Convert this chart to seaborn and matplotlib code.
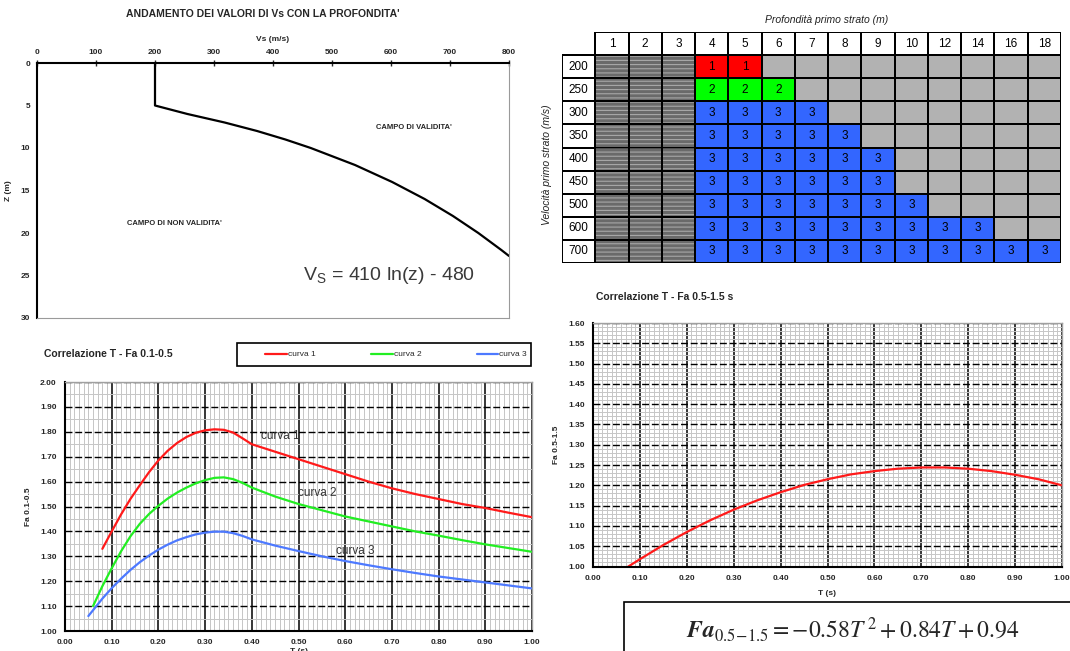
import numpy as np
import pandas as pd
import matplotlib
matplotlib.use("Agg")
import matplotlib.pyplot as plt
from matplotlib.colors import ListedColormap
from matplotlib.patches import Rectangle
import seaborn as sns

# ---------------- dati: Vs con la profondita' ----------------
prof_z = [0, 5, 6, 7, 8, 9, 10, 12, 14, 16, 18, 20, 22, 22.7]
vs_ms = [200, 200, 255, 318, 373, 421, 464, 539, 602, 657, 705, 748, 787, 800]

# ---------------- dati: tabella profondita' / velocita' ----------------
prof_strato = ['1', '2', '3', '4', '5', '6', '7', '8', '9', '10', '12', '14', '16', '18']
vel_strato = ['200', '250', '300', '350', '400', '450', '500', '600', '700']
# -1 = zona retinata, 0 = fuori campo, 1/2/3 = curva da usare
classe_curva = [
    [-1, -1, -1, 1, 1, 0, 0, 0, 0, 0, 0, 0, 0, 0],
    [-1, -1, -1, 2, 2, 2, 0, 0, 0, 0, 0, 0, 0, 0],
    [-1, -1, -1, 3, 3, 3, 3, 0, 0, 0, 0, 0, 0, 0],
    [-1, -1, -1, 3, 3, 3, 3, 3, 0, 0, 0, 0, 0, 0],
    [-1, -1, -1, 3, 3, 3, 3, 3, 3, 0, 0, 0, 0, 0],
    [-1, -1, -1, 3, 3, 3, 3, 3, 3, 0, 0, 0, 0, 0],
    [-1, -1, -1, 3, 3, 3, 3, 3, 3, 3, 0, 0, 0, 0],
    [-1, -1, -1, 3, 3, 3, 3, 3, 3, 3, 3, 3, 0, 0],
    [-1, -1, -1, 3, 3, 3, 3, 3, 3, 3, 3, 3, 3, 3],
]

# ---------------- dati: correlazione T - Fa 0.1-0.5 ----------------
t_curva1 = [0.08, 0.10, 0.12, 0.14, 0.16, 0.18, 0.20, 0.22, 0.24, 0.26, 0.28, 0.30, 0.32, 0.34, 0.36,
            0.38, 0.40, 0.45, 0.50, 0.55, 0.60, 0.65, 0.70, 0.75, 0.80, 0.85, 0.90, 0.95, 1.00]
fa_curva1 = [1.33, 1.40, 1.468, 1.53, 1.585, 1.638, 1.685, 1.724, 1.755, 1.779, 1.796, 1.806, 1.81, 1.808, 1.797,
             1.774, 1.75, 1.72, 1.69, 1.66, 1.63, 1.60, 1.573, 1.55, 1.53, 1.51, 1.494, 1.475, 1.457]
t_curva2 = [0.06, 0.08, 0.10, 0.12, 0.14, 0.16, 0.18, 0.20, 0.22, 0.24, 0.26, 0.28, 0.30, 0.32, 0.34,
            0.36, 0.38, 0.40, 0.45, 0.50, 0.55, 0.60, 0.65, 0.70, 0.75, 0.80, 0.85, 0.90, 0.95, 1.00]
fa_curva2 = [1.10, 1.18, 1.252, 1.32, 1.38, 1.43, 1.47, 1.503, 1.532, 1.556, 1.576, 1.593, 1.606, 1.615, 1.617,
             1.61, 1.595, 1.576, 1.54, 1.51, 1.485, 1.46, 1.44, 1.42, 1.40, 1.383, 1.365, 1.348, 1.333, 1.318]
t_curva3 = [0.05, 0.08, 0.10, 0.12, 0.14, 0.16, 0.18, 0.20, 0.22, 0.24, 0.26, 0.28, 0.30, 0.32, 0.34,
            0.36, 0.38, 0.40, 0.45, 0.50, 0.55, 0.60, 0.65, 0.70, 0.75, 0.80, 0.85, 0.90, 0.95, 1.00]
fa_curva3 = [1.06, 1.13, 1.172, 1.21, 1.245, 1.276, 1.303, 1.327, 1.347, 1.364, 1.377, 1.388, 1.395, 1.399, 1.399,
             1.393, 1.382, 1.368, 1.343, 1.321, 1.30, 1.281, 1.264, 1.248, 1.233, 1.219, 1.207, 1.195, 1.183, 1.171]
nomi_curve = ['curva 1', 'curva 2', 'curva 3']

# ---------------- dati: correlazione T - Fa 0.5-1.5 ----------------
t_lungo = [0.07, 0.10, 0.15, 0.20, 0.25, 0.30, 0.35, 0.40, 0.45, 0.50, 0.55,
           0.60, 0.65, 0.70, 0.75, 0.80, 0.85, 0.90, 0.95, 1.00]
fa_lungo = [0.996, 1.018, 1.053, 1.085, 1.114, 1.140, 1.163, 1.183, 1.201, 1.215, 1.227,
            1.235, 1.241, 1.244, 1.244, 1.241, 1.235, 1.226, 1.215, 1.200]

sns.set_theme(style="white")
plt.rcParams['font.family'] = ['Liberation Sans', 'DejaVu Sans']
plt.rcParams['hatch.linewidth'] = 0.8

W, H = 1070, 651
fig = plt.figure(figsize=(W / 100, H / 100), dpi=100)
fig.patch.set_facecolor('white')


def riquadro(x0, y0, x1, y1):
    # da pixel immagine a coordinate figura
    return [x0 / W, 1 - y1 / H, (x1 - x0) / W, (y1 - y0) / H]


def etichette_grassetto(ax, xt, yt, fx, fy, size=6):
    ax.set_xticks(xt)
    ax.set_xticklabels([fx % v for v in xt], fontsize=size, fontweight='bold')
    ax.set_yticks(yt)
    ax.set_yticklabels([fy % v for v in yt], fontsize=size, fontweight='bold')


# ============ grafico Vs - profondita' ============
ax1 = fig.add_axes(riquadro(37, 63, 509, 318))
sns.lineplot(x=vs_ms, y=prof_z, estimator=None, sort=False, color='black', lw=1.6, ax=ax1)
ax1.set_xlim(0, 800)
ax1.set_ylim(30, 0)
ax1.xaxis.tick_top()
ax1.xaxis.set_label_position('top')
etichette_grassetto(ax1, np.arange(0, 801, 100), np.arange(0, 31, 5), '%d', '%d')
ax1.tick_params(axis='both', direction='inout', length=4, width=1, pad=3)
ax1.set_xlabel('Vs (m/s)', fontsize=6, fontweight='bold', labelpad=6)
ax1.set_ylabel('Z (m)', fontsize=6, fontweight='bold', labelpad=6)
for lato in ['top', 'left']:
    ax1.spines[lato].set_color('black')
    ax1.spines[lato].set_linewidth(1.5)
for lato in ['bottom', 'right']:
    ax1.spines[lato].set_color('#9a9a9a')
    ax1.spines[lato].set_linewidth(0.8)
ax1.text(639, 7.6, "CAMPO DI VALIDITA'", fontsize=5.5, fontweight='bold', ha='center', va='center')
ax1.text(233, 18.9, "CAMPO DI NON VALIDITA'", fontsize=5.5, fontweight='bold', ha='center', va='center')
ax1.text(596, 25.0, r'V$_\mathregular{S}$ = 410 ln(z) - 480', fontsize=14, color='#3a3a3a',
         ha='center', va='center')
fig.text(263 / W, 1 - 14 / H, "ANDAMENTO DEI VALORI DI Vs CON LA PROFONDITA'",
         fontsize=7.5, fontweight='bold', ha='center', va='center')

# ============ tabella ============
n_r, n_c = len(vel_strato), len(prof_strato)
griglia = np.full((n_r + 1, n_c + 1), np.nan)
griglia[0, 1:] = 4
griglia[1:, 0] = 4
griglia[1:, 1:] = np.array(classe_curva)
testi = np.full((n_r + 1, n_c + 1), '', dtype=object)
testi[0, 1:] = prof_strato
testi[1:, 0] = vel_strato
for i in range(n_r):
    for j in range(n_c):
        if classe_curva[i][j] > 0:
            testi[i + 1, j + 1] = str(classe_curva[i][j])

colori_tab = ListedColormap(['#6a6a6a', '#b2b2b2', '#ff0000', '#00ff00', '#3366ff', '#ffffff'])
ax2 = fig.add_axes(riquadro(562, 32, 1061, 263))
sns.heatmap(griglia, ax=ax2, cmap=colori_tab, vmin=-1.5, vmax=4.5, cbar=False,
            linewidths=1.1, linecolor='black', annot=testi, fmt='',
            annot_kws={'color': '#1a1a2a', 'size': 6.5},
            xticklabels=False, yticklabels=False)
for i in range(n_r):
    for j in range(n_c):
        if classe_curva[i][j] == -1:
            ax2.add_patch(Rectangle((j + 1.03, i + 1.04), 0.94, 0.92, fill=False, hatch='----',
                                    edgecolor='#a8a8a8', lw=0))
# angolo vuoto in alto a sinistra, senza bordo
ax2.add_patch(Rectangle((-0.3, -0.3), 1.26, 1.26, facecolor='white', edgecolor='none',
                        zorder=5, clip_on=False))
for t in ax2.texts:
    if t.get_text() in prof_strato or t.get_text() in vel_strato:
        t.set_fontsize(8.5)
        t.set_color('black')
fig.text(827 / W, 1 - 20 / H, 'Profondità primo strato (m)', fontsize=7.5, style='italic',
         ha='center', va='center', color='#222222')
fig.text(547 / W, 1 - 165 / H, 'Velocità primo strato (m/s)', fontsize=7.5, style='italic',
         rotation=90, ha='center', va='center', color='#222222')


def carta_millimetrata(ax, y_minor):
    ax.set_xticks(np.arange(0, 1.001, 0.01), minor=True)
    ax.set_yticks(np.arange(ax.get_ylim()[0], ax.get_ylim()[1] + 1e-9, y_minor), minor=True)
    ax.grid(which='minor', color='#c6c6c6', lw=0.7)
    ax.grid(which='major', axis='x', color='black', lw=1.1)
    ax.grid(which='major', axis='y', color='black', lw=1.0, ls=(0, (5, 2)))
    ax.set_axisbelow(True)
    ax.tick_params(which='minor', length=0)
    ax.tick_params(which='major', length=3, width=1, direction='out', pad=3)
    for lato in ['left', 'bottom']:
        ax.spines[lato].set_color('black')
        ax.spines[lato].set_linewidth(1.5)
    for lato in ['top', 'right']:
        ax.spines[lato].set_color('#a0a0a0')
        ax.spines[lato].set_linewidth(1.0)


# ============ correlazione T - Fa 0.1-0.5 ============
df_corr = pd.concat([
    pd.DataFrame({'T': t_curva1, 'Fa': fa_curva1, 'curva': nomi_curve[0]}),
    pd.DataFrame({'T': t_curva2, 'Fa': fa_curva2, 'curva': nomi_curve[1]}),
    pd.DataFrame({'T': t_curva3, 'Fa': fa_curva3, 'curva': nomi_curve[2]}),
])
palette = dict(zip(nomi_curve, ['#ff1a1a', '#22ee22', '#4d79ff']))
ax3 = fig.add_axes(riquadro(65, 382, 532, 631))
sns.lineplot(data=df_corr, x='T', y='Fa', hue='curva', palette=palette, estimator=None,
             sort=False, lw=1.6, ax=ax3)
ax3.set_xlim(0, 1)
ax3.set_ylim(1.0, 2.0)
etichette_grassetto(ax3, np.round(np.arange(0, 1.001, 0.1), 2), np.round(np.arange(1.0, 2.001, 0.1), 2),
                    '%.2f', '%.2f', size=6)
carta_millimetrata(ax3, 0.05)
ax3.set_xlabel('T (s)', fontsize=6, fontweight='bold', labelpad=1)
ax3.set_ylabel('Fa 0.1-0.5', fontsize=6, fontweight='bold', labelpad=6)
ax3.text(0.42, 1.785, 'curva 1', fontsize=8.5, color='#333333', va='center')
ax3.text(0.50, 1.553, 'curva 2', fontsize=8.5, color='#333333', va='center')
ax3.text(0.58, 1.32, 'curva 3', fontsize=8.5, color='#333333', va='center')
leg = ax3.legend(loc='center left', bbox_to_anchor=riquadro(262, 343, 530, 366),
                 bbox_transform=fig.transFigure, ncol=3, mode='expand', frameon=False,
                 fontsize=6, handlelength=2.6, handletextpad=0.1, borderaxespad=0, title=None)
fig.add_artist(Rectangle((237 / W, 1 - 366 / H), (531 - 237) / W, 23 / H, transform=fig.transFigure,
                         fill=False, edgecolor='black', lw=1.2))
fig.text(44 / W, 1 - 354 / H, 'Correlazione T - Fa 0.1-0.5', fontsize=7.5, fontweight='bold',
         ha='left', va='center')

# ============ correlazione T - Fa 0.5-1.5 ============
ax4 = fig.add_axes(riquadro(593, 323, 1062, 566.5))
sns.lineplot(x=t_lungo, y=fa_lungo, color='#ff1a1a', lw=1.6, ax=ax4)
ax4.set_xlim(0, 1)
ax4.set_ylim(1.0, 1.6)
etichette_grassetto(ax4, np.round(np.arange(0, 1.001, 0.1), 2), np.round(np.arange(1.0, 1.601, 0.05), 2),
                    '%.2f', '%.2f', size=6)
carta_millimetrata(ax4, 0.01)
ax4.set_xlabel('T (s)', fontsize=6, fontweight='bold', labelpad=6)
ax4.set_ylabel('Fa 0.5-1.5', fontsize=6, fontweight='bold', labelpad=6)
fig.text(596 / W, 1 - 297 / H, 'Correlazione T - Fa 0.5-1.5 s', fontsize=7.5, fontweight='bold',
         ha='left', va='center')

# riquadro con la formula
fig.add_artist(Rectangle((624 / W, -0.05), 0.5, 0.05 + (651 - 602) / H, transform=fig.transFigure,
                         fill=False, edgecolor='black', lw=1.2, clip_on=False))
fig.text(853 / W, 1 - 630 / H, r'$\mathbfit{Fa}_{0.5\!-\!1.5} = -0.58T^{\,2} + 0.84T + 0.94$',
         fontsize=17, math_fontfamily='stix', ha='center', va='center')

fig.savefig('out.png', dpi=100)
